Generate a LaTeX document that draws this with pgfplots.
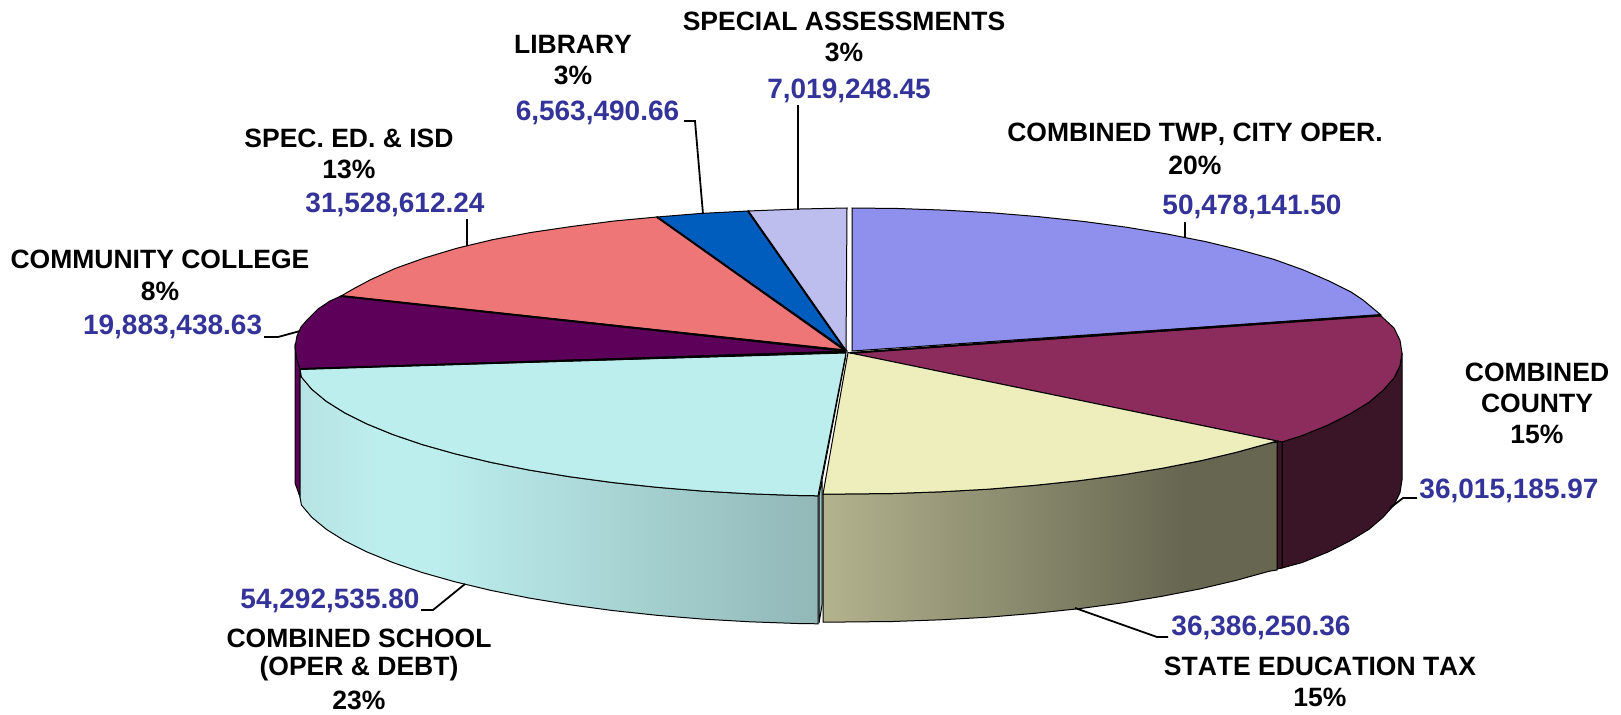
\documentclass[border=0pt]{standalone}
\usepackage{pgfplots}
\pgfplotsset{compat=1.18}
\usepackage{fontspec}
\setmainfont[Kerning=Off]{Liberation Sans}
\definecolor{cviolet}{HTML}{8F8FEE}
\definecolor{ccrimson}{HTML}{8B2C5C}
\definecolor{cyellow}{HTML}{EEEEBD}
\definecolor{ccyan}{HTML}{BDEEEE}
\definecolor{cpurple}{HTML}{5C0059}
\definecolor{cpink}{HTML}{EE7676}
\definecolor{cblue}{HTML}{005CBD}
\definecolor{clav}{HTML}{BDBDEE}
\definecolor{cdark}{HTML}{3A1527}
\definecolor{cnum}{HTML}{333399}
\pgfdeclarehorizontalshading{cyanwall}{100bp}{color(0bp)=(ccyan!90!gray); color(25bp)=(ccyan!90!gray); color(33bp)=(ccyan); color(38bp)=(ccyan); color(75bp)=(ccyan!77!black); color(100bp)=(ccyan!77!black)}
\pgfdeclarehorizontalshading{olivewall}{100bp}{color(0bp)=(cyellow!75!black); color(25bp)=(cyellow!75!black); color(65bp)=(cyellow!43!black); color(100bp)=(cyellow!43!black)}
\newcommand{\lab}[1]{\fontsize{26.5bp}{31bp}\selectfont\bfseries #1}
\newcommand{\num}[1]{\fontsize{28bp}{32bp}\selectfont\bfseries\color{cnum} #1}
\begin{document}
\begin{tikzpicture}
\begin{axis}[scale only axis, width=1621bp, height=715bp, xmin=0, xmax=1621, ymin=0, ymax=715, y dir=reverse, hide axis, clip=false, enlargelimits=false]
% walls
\addplot[draw=black, line width=1bp, fill=cpurple] coordinates {(295,347)(300,369)(300,497)(295,483)} -- cycle;
\addplot[draw=black, line width=1bp, fill=cdark] coordinates {(1402,353)(1400,365.6)(1394,378)(1383,390.3)(1369,402.3)(1350,413.9)(1328,425)(1302,435.6)(1282,441)(1282,568)(1302,562.6)(1328,552)(1350,540.9)(1369,529.3)(1383,517.3)(1394,505)(1400,492.6)(1402,480)} -- cycle;
\addplot[draw=black, line width=1bp, fill=cdark] coordinates {(1277,441)(1282,441)(1282,568)(1277,569)} -- cycle;
\addplot[draw=black, line width=1bp, shading=olivewall] coordinates {(1277,442)(1269,443.3)(1236,452.4)(1200.5,460.8)(1162,468.3)(1121.5,475)(1079,480.7)(1034,485.4)(988,489.2)(941,491.8)(893,493.5)(845,494)(823,494)(823,622)(845,622)(893,621.5)(941,619.8)(988,617.2)(1034,613.4)(1079,608.7)(1121.5,603)(1162,596.3)(1200.5,588.8)(1236,580.4)(1269,571.3)(1277,570)} -- cycle;
\addplot[draw=black, line width=1bp, fill=ccyan!82!black] coordinates {(846,355)(819,495.8)(819,623)(822,605)(822,480)} -- cycle;
\addplot[draw=black, line width=1bp, shading=cyanwall] coordinates {(300,369)(301.4,377)(311.8,389.3)(326.3,401.3)(344.8,412.9)(367.1,424)(393,434.6)(422.4,444.6)(455,453.8)(490.5,462.3)(528.8,470)(569.5,476.7)(612.3,482.5)(656.9,487.3)(702.9,491.1)(750,493.8)(797.8,495.5)(818,495.8)(818,623.8)(797.8,623.5)(750,621.8)(702.9,619.1)(656.9,615.3)(612.3,610.5)(569.5,604.7)(528.8,598)(490.5,590.3)(455,581.8)(422.4,572.6)(393,562.6)(367.1,552)(344.8,540.9)(326.3,529.3)(311.8,517.3)(301.4,505)(300,497)} -- cycle;
% tops
\addplot[draw=black, line width=1bp, fill=cviolet] coordinates {(852,351)(852,208)(898,208.5)(946,210.2)(993,212.9)(1039,216.7)(1084,221.5)(1127,227.3)(1167,234)(1206,241.7)(1241,250.2)(1274,259.4)(1303,269.8)(1329,281)(1351,292)(1363,300)(1381,315)} -- cycle;
\addplot[draw=black, line width=1bp, fill=ccrimson] coordinates {(850,353)(1381,316)(1394,328)(1400,340.4)(1402,353)(1400,365.6)(1394,378)(1383,390.3)(1369,402.3)(1350,413.9)(1328,425)(1302,435.6)(1282,442)} -- cycle;
\addplot[draw=black, line width=1bp, fill=cyellow] coordinates {(848,352.5)(1277,441)(1269,443.3)(1236,452.4)(1200.5,460.8)(1162,468.3)(1121.5,475)(1079,480.7)(1034,485.4)(988,489.2)(941,491.8)(893,493.5)(845,494)(823,494)} -- cycle;
\addplot[draw=black, line width=1bp, fill=ccyan] coordinates {(846,353)(818,495.8)(797.8,495.5)(750,493.8)(702.9,491.1)(656.9,487.3)(612.3,482.5)(569.5,476.7)(528.8,470)(490.5,462.3)(455,453.8)(422.4,444.6)(393,434.6)(367.1,424)(344.8,412.9)(326.3,401.3)(311.8,389.3)(301.4,377)(300,369)} -- cycle;
\addplot[draw=black, line width=1bp, fill=cpurple] coordinates {(846,351)(300,369)(297,360)(295,347)(297,336)(301,327)(307,320)(318,309)(330,301)(341,296)} -- cycle;
\addplot[draw=black, line width=1bp, fill=cpink] coordinates {(846,350)(341,296)(355,288)(370,280)(395,268.5)(424.4,258)(457,248.2)(492.5,239.7)(530.8,232.5)(571.5,226.5)(614.3,221)(657,217)} -- cycle;
\addplot[draw=black, line width=1bp, fill=cblue] coordinates {(846,350)(657,217)(700,213.5)(748,211)} -- cycle;
\addplot[draw=black, line width=1bp, fill=clav] coordinates {(846,351)(748,211)(800,209)(847,208)} -- cycle;
% heavier radial edges
\addplot[black, line width=2bp] coordinates {(846,351)(748,211)};
\addplot[black, line width=2bp] coordinates {(846,351)(657,217)};
\addplot[black, line width=2bp] coordinates {(846,351)(341,296)};
\addplot[black, line width=2bp] coordinates {(846,352)(300,369)};
\addplot[black, line width=2bp] coordinates {(850,353)(1381,315)};
% leaders
\addplot[black, line width=1.8bp] coordinates {(798,105)(798,210)};
\addplot[black, line width=1.8bp] coordinates {(684,121)(695,121)(703,214)};
\addplot[black, line width=1.8bp] coordinates {(467,219)(467,246)};
\addplot[black, line width=1.8bp] coordinates {(264,337)(278,337)(300,331)};
\addplot[black, line width=1.8bp] coordinates {(1185,222)(1185,238)};
\addplot[black, line width=1.8bp] coordinates {(1417,498)(1403,498)(1390,508)};
\addplot[black, line width=1.8bp] coordinates {(1075,608)(1157,637)(1168,637)};
\addplot[black, line width=1.8bp] coordinates {(421,610)(433,610)(465,584)};
% labels
\node at (axis cs:844,21) {\lab{SPECIAL ASSESSMENTS}};
\node at (axis cs:844,52) {\lab{3\%}};
\node at (axis cs:849,91) {\num{7,019,248.45}};
\node at (axis cs:573,44) {\lab{LIBRARY}};
\node at (axis cs:573,75) {\lab{3\%}};
\node at (axis cs:597.5,113) {\num{6,563,490.66}};
\node at (axis cs:349,138.5) {\lab{SPEC. ED. \& ISD}};
\node at (axis cs:349,169.5) {\lab{13\%}};
\node at (axis cs:395,205) {\num{31,528,612.24}};
\node at (axis cs:160,259.5) {\lab{COMMUNITY COLLEGE}};
\node at (axis cs:160,291.5) {\lab{8\%}};
\node at (axis cs:172.6,327) {\num{19,883,438.63}};
\node at (axis cs:1195,134) {\lab{COMBINED TWP, CITY OPER.}};
\node at (axis cs:1195,165.5) {\lab{20\%}};
\node at (axis cs:1252,207) {\num{50,478,141.50}};
\node at (axis cs:1537,372) {\lab{COMBINED}};
\node at (axis cs:1537,403) {\lab{COUNTY}};
\node at (axis cs:1537,434) {\lab{15\%}};
\node at (axis cs:1509,491) {\num{36,015,185.97}};
\node at (axis cs:1261,627.5) {\num{36,386,250.36}};
\node at (axis cs:1320,666) {\lab{STATE EDUCATION TAX}};
\node at (axis cs:1320,697) {\lab{15\%}};
\node at (axis cs:330,601) {\num{54,292,535.80}};
\node at (axis cs:359,638) {\lab{COMBINED SCHOOL}};
\node at (axis cs:359,669) {\lab{(OPER \& DEBT)}};
\node at (axis cs:359,700) {\lab{23\%}};
\end{axis}
\pgfresetboundingbox
\path[use as bounding box] (current axis.south west) rectangle (current axis.north east);
\end{tikzpicture}
\end{document}
